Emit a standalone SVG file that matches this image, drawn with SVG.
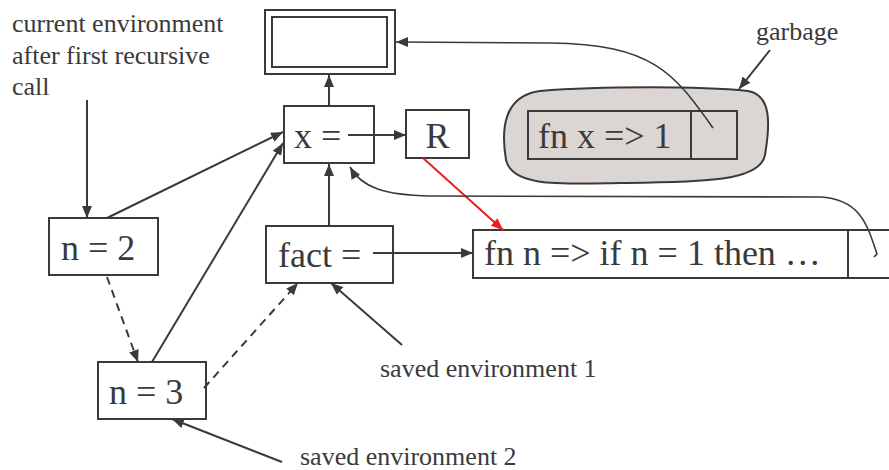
<svg xmlns="http://www.w3.org/2000/svg" width="889" height="470" viewBox="0 0 889 470">
<defs>
<style>
.box{fill:#fff;stroke:#3a3a3c;stroke-width:2}
.big{font-size:36px;fill:#3a3a3c}
.lbl{font-size:26px;fill:#3a3a3c}
.ln{fill:none;stroke:#3a3a3c;stroke-width:2}
.thin{fill:none;stroke:#3a3a3c;stroke-width:1.6}
.dash{fill:none;stroke:#3a3a3c;stroke-width:2;stroke-dasharray:8 6}
</style>
<marker id="ah" viewBox="0 0 12 10" refX="12" refY="5" markerWidth="12" markerHeight="10" markerUnits="userSpaceOnUse" orient="auto">
<path d="M0,0 L12,5 L0,10 Z" fill="#3a3a3c"/>
</marker>
<marker id="ahr" viewBox="0 0 12 10" refX="12" refY="5" markerWidth="12" markerHeight="10" markerUnits="userSpaceOnUse" orient="auto">
<path d="M0,0 L12,5 L0,10 Z" fill="#ee1c24"/>
</marker>
</defs>

<g font-family="Liberation Serif, DejaVu Serif, serif">
<g id="labels">
<text class="lbl" x="12" y="32">current environment</text>
<text class="lbl" x="12" y="64">after first recursive</text>
<text class="lbl" x="12" y="95">call</text>
<text class="lbl" x="756" y="40">garbage</text>
<text class="lbl" x="380" y="377">saved environment 1</text>
<text class="lbl" x="300" y="465">saved environment 2</text>
</g>

<g id="node-top">
<rect class="box" x="265" y="10" width="130" height="64"/>
<rect class="box" x="272" y="17" width="115" height="50"/>
</g>

<g id="node-x">
<rect class="box" x="284" y="106" width="90" height="57"/>
<text class="big" x="294" y="148">x =</text>
</g>

<g id="node-R">
<rect class="box" x="406" y="110" width="63" height="48"/>
<text class="big" x="437.5" y="148" text-anchor="middle">R</text>
</g>

<g id="node-garbage">
<path d="M540,91 C600,86 700,86 748,91 C772,95 770,125 765,155 C760,182 700,182 620,183 C560,184 512,187 506,160 C501,130 503,96 540,91 Z" fill="#dcd6d3" stroke="#3a3a3c" stroke-width="2"/>
<rect x="528" y="111" width="209" height="48" fill="none" stroke="#3a3a3c" stroke-width="2"/>
<line class="ln" x1="691" y1="111" x2="691" y2="159"/>
<text class="big" x="538" y="148">fn x =&gt; 1</text>
</g>

<g id="node-fact">
<rect class="box" x="266" y="226" width="127" height="57"/>
<text class="big" x="278" y="267">fact =</text>
</g>

<g id="node-fn">
<rect class="box" x="473" y="230" width="430" height="48"/>
<line class="ln" x1="848" y1="230" x2="848" y2="278"/>
<text class="big" x="484" y="265">fn n =&gt; if n = 1 then …</text>
</g>

<g id="node-n2">
<rect class="box" x="49" y="218" width="109" height="57"/>
<text class="big" x="61" y="260">n = 2</text>
</g>

<g id="node-n3">
<rect class="box" x="98" y="362" width="108" height="57"/>
<text class="big" x="109" y="404">n = 3</text>
</g>
</g>

<g id="connectors">
<line class="ln" x1="329" y1="106" x2="329" y2="75" marker-end="url(#ah)"/>
<line class="ln" x1="348" y1="135" x2="406" y2="135" marker-end="url(#ah)"/>
<line class="ln" x1="329" y1="226" x2="329" y2="164" marker-end="url(#ah)"/>
<line class="ln" x1="373" y1="253" x2="473" y2="253" marker-end="url(#ah)"/>
<line class="ln" x1="87" y1="100" x2="87" y2="218" marker-end="url(#ah)"/>
<line class="ln" x1="107" y1="218" x2="283" y2="132" marker-end="url(#ah)"/>
<line class="ln" x1="152" y1="362" x2="283" y2="143" marker-end="url(#ah)"/>
<line class="dash" x1="107" y1="277" x2="138" y2="362" marker-end="url(#ah)"/>
<line class="dash" x1="204" y1="388" x2="298" y2="283" marker-end="url(#ah)"/>
<line class="ln" x1="402" y1="345" x2="331" y2="283" marker-end="url(#ah)"/>
<line class="ln" x1="282" y1="462" x2="172" y2="419" marker-end="url(#ah)"/>
<line class="ln" x1="770" y1="50" x2="739" y2="89" marker-end="url(#ah)"/>
<line x1="423" y1="158" x2="503" y2="230" stroke="#ee1c24" stroke-width="2" marker-end="url(#ahr)"/>
<path class="thin" d="M713,128 C675,75 655,44 550,43 L396,42" marker-end="url(#ah)"/>
<path class="thin" d="M874,257 L877,254 C868,228 862,199 820,197 L430,196 C385,195 362,188 350,167" marker-end="url(#ah)"/>
</g>
</svg>
